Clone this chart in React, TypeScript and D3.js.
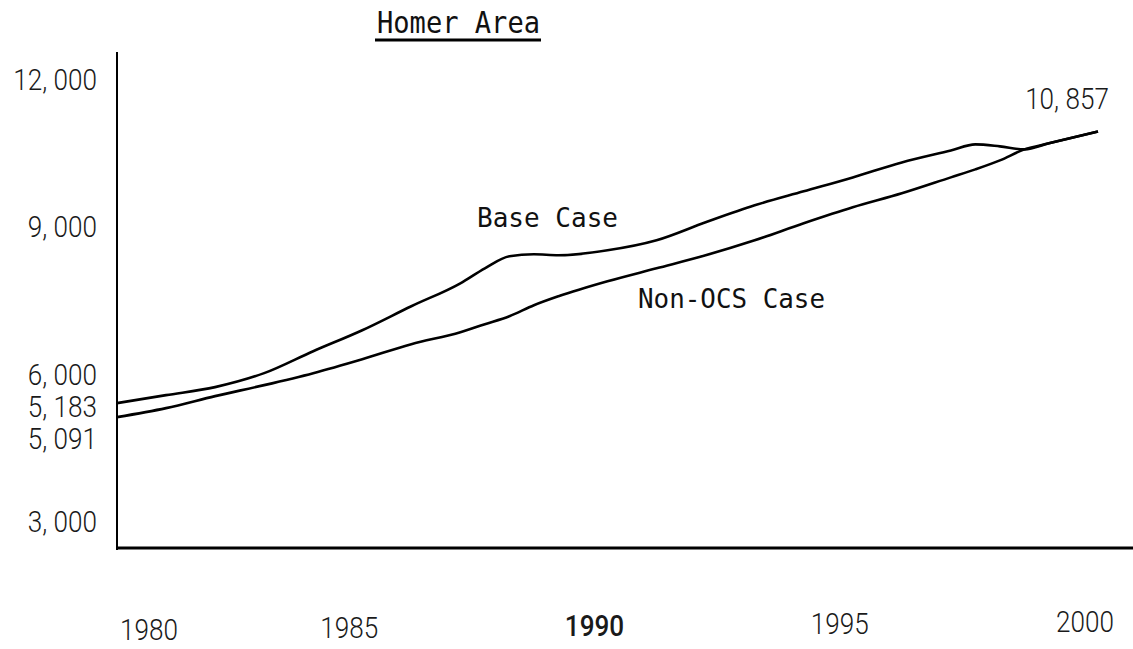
import * as d3 from "d3";
import React from "react";

// values (persons); half years where the curves bend
const years = [
  1980, 1981, 1982, 1983, 1984, 1985, 1986, 1987, 1987.5, 1988, 1988.5, 1989,
  1990, 1991, 1992, 1993, 1994, 1995, 1996, 1997, 1997.5, 1998, 1998.5, 1999,
  2000,
];
const baseCase = [
  5420, 5583, 5746, 6031, 6478, 6905, 7393, 7861, 8166, 8410, 8451, 8431, 8532,
  8736, 9102, 9448, 9733, 10017, 10322, 10566, 10689, 10648, 10587, 10710,
  10953,
];
const nonOcsCase = [
  5136, 5319, 5563, 5787, 6031, 6315, 6621, 6865, 7027, 7190, 7414, 7597, 7902,
  8166, 8431, 8736, 9082, 9407, 9692, 10017, 10180, 10363, 10587, 10710, 10953,
];
const yTickValues = [3000, 6000, 9000, 12000];
const yTickLabels = ["3, 000", "6, 000", "9, 000", "12, 000"];
const startLabels = ["5, 183", "5, 091"];
const endLabel = "10, 857";
const xTickYears = [1980, 1985, 1990, 1995, 2000];
const seriesNames = ["Base Case", "Non-OCS Case"];
const title = "Homer Area";

export default function App() {
  const width = 1133;
  const height = 649;

  const x = d3.scaleLinear().domain([1980, 2000]).range([117, 1098]);
  const y = d3.scaleLinear().domain([3000, 12000]).range([522, 80]);

  const line = d3
    .line<[number, number]>()
    .x((d) => x(d[0]))
    .y((d) => y(d[1]))
    .curve(d3.curveMonotoneX);

  const series = [baseCase, nonOcsCase].map((vals) =>
    years.map((yr, i) => [yr, vals[i]] as [number, number])
  );

  const axisBottom = 548;
  const num = "Roboto, 'Liberation Sans', sans-serif";
  const mono = "'DejaVu Sans Mono', 'Liberation Mono', monospace";
  // the scan uses a light condensed face; squeeze Roboto Light horizontally
  const squeeze = 0.9;

  const numText = (
    key: string,
    label: string | number,
    px: number,
    py: number,
    anchor: string,
    weight: number = 300
  ) => (
    <g key={key} transform={`translate(${px},${py}) scale(${squeeze},1)`}>
      <text
        textAnchor={anchor}
        dominantBaseline="central"
        fontFamily={num}
        fontWeight={weight}
        fontSize="29"
        fill="#1a1a1a"
      >
        {label}
      </text>
    </g>
  );

  return (
    <svg
      width={width}
      height={height}
      style={{ position: "fixed", left: 0, top: 0, background: "#fff" }}
    >
      {/* title */}
      <text
        x={377}
        y={33}
        fontFamily={mono}
        fontSize="30"
        fill="#111"
        textLength={163}
        lengthAdjust="spacingAndGlyphs"
      >
        {title}
      </text>
      <line x1={375} x2={541} y1={40} y2={40} stroke="#000" strokeWidth="3" />

      {/* axes */}
      <line x1={x(1980)} x2={x(1980)} y1={52} y2={axisBottom + 2} stroke="#000" strokeWidth="2" />
      <line x1={x(1980)} x2={width} y1={axisBottom} y2={axisBottom} stroke="#000" strokeWidth="3.2" />

      {/* y tick labels */}
      {yTickValues.map((v, i) => numText("y" + v, yTickLabels[i], 97, y(v), "end"))}
      {startLabels.map((s, i) => numText("s" + i, s, 97, y(6000) + 32 * (i + 1), "end"))}

      {/* x tick labels */}
      {xTickYears.map((yr, i) =>
        numText(
          "x" + yr,
          yr,
          Math.max(x(yr) - 13, x(1980) + 32),
          630 - i * 2,
          "middle",
          yr === 1990 ? 500 : 300
        )
      )}

      {/* series */}
      {series.map((pts, i) => (
        <path
          key={i}
          d={line(pts) || ""}
          fill="none"
          stroke="#000"
          strokeWidth="2.6"
          strokeLinejoin="round"
        />
      ))}

      {/* annotations */}
      <text
        x={477}
        y={227}
        fontFamily={mono}
        fontSize="27"
        fill="#111"
        textLength={141}
        lengthAdjust="spacingAndGlyphs"
      >
        {seriesNames[0]}
      </text>
      <text
        x={638}
        y={308}
        fontFamily={mono}
        fontSize="27"
        fill="#111"
        textLength={187}
        lengthAdjust="spacingAndGlyphs"
      >
        {seriesNames[1]}
      </text>
      {numText("end", endLabel, x(2000) - 31, 99, "middle")}
    </svg>
  );
}
